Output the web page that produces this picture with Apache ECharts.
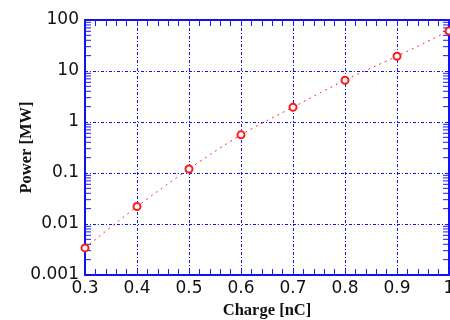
<!DOCTYPE html>
<html>
<head>
<meta charset="utf-8">
<script src="https://cdn.jsdelivr.net/npm/echarts@6/dist/echarts.min.js"></script>
<style>
  html, body { margin: 0; padding: 0; background: #fff; }
  #chart { width: 450px; height: 320px; }
</style>
</head>
<body>
<div id="chart"></div>
<script>
// data
const charge = [0.3, 0.4, 0.5, 0.6, 0.7, 0.8, 0.9, 1.0];
const power = [0.0034, 0.022, 0.12, 0.56, 1.95, 6.6, 19.5, 61];

const yTicks = [0.001, 0.01, 0.1, 1, 10, 100];
// log minor ticks (2..9 per decade), drawn on both y edges
const yMinorTicks = [
  0.002, 0.003, 0.004, 0.005, 0.006, 0.007, 0.008, 0.009,
  0.02, 0.03, 0.04, 0.05, 0.06, 0.07, 0.08, 0.09,
  0.2, 0.3, 0.4, 0.5, 0.6, 0.7, 0.8, 0.9,
  2, 3, 4, 5, 6, 7, 8, 9,
  20, 30, 40, 50, 60, 70, 80, 90
];

const blue = '#1010f0';
const tickColor = '#1a1aff';
const labelFont = { fontFamily: 'DejaVu Sans', fontSize: 17, color: '#111' };
const nameFont = { fontFamily: 'Liberation Serif', fontSize: 16.5, fontWeight: 'bold', color: '#111' };
const gridDash = { color: blue, width: 1, type: [3, 2, 1, 2] };

const chart = echarts.init(document.getElementById('chart'));

const xBase = {
  type: 'value',
  min: 0.3,
  max: 1.0,
  interval: 0.1,
  axisLine: { lineStyle: { color: blue, width: 2 } },
  axisTick: { show: true, inside: true, length: 6, lineStyle: { color: tickColor, width: 1 } },
  minorTick: { show: true, splitNumber: 5, length: 6, lineStyle: { color: tickColor, width: 1 } },
};

const yBase = {
  type: 'log',
  logBase: 10,
  min: 0.001,
  max: 100,
  axisLine: { lineStyle: { color: blue, width: 2 } },
  axisTick: { show: false },
};

chart.setOption({
  animation: false,
  grid: { left: 85, right: 1, top: 20, bottom: 45, outerBoundsMode: 'none' },
  xAxis: [
    Object.assign({}, xBase, {
      position: 'bottom',
      name: 'Charge [nC]',
      nameLocation: 'middle',
      nameGap: 26,
      nameTextStyle: nameFont,
      axisLabel: Object.assign({}, labelFont, {
        margin: 5,
        formatter: v => (Math.abs(v - 1) < 1e-9 ? '1' : v.toFixed(1))
      }),
      splitLine: { show: true, lineStyle: gridDash }
    }),
    Object.assign({}, xBase, {
      position: 'top',
      axisLabel: { show: false },
      splitLine: { show: false }
    })
  ],
  yAxis: [
    Object.assign({}, yBase, {
      position: 'left',
      name: 'Power [MW]',
      nameLocation: 'middle',
      nameGap: 50,
      nameMoveOverlap: false,
      nameTextStyle: nameFont,
      axisLabel: Object.assign({}, labelFont, {
        margin: 6,
        formatter: v => {
          const hit = yTicks.find(t => Math.abs(Math.log10(v) - Math.log10(t)) < 1e-6);
          return hit === undefined ? '' : String(hit);
        }
      }),
      splitLine: { show: true, lineStyle: gridDash }
    }),
    Object.assign({}, yBase, {
      position: 'right',
      axisLabel: { show: false },
      splitLine: { show: false }
    })
  ],
  series: [
    {
      type: 'custom',
      silent: true,
      data: yMinorTicks.map(v => [0.3, v]),
      renderItem: (params, api) => {
        const v = api.value(1);
        const l = api.coord([0.3, v]);
        return { type: 'line', shape: { x1: l[0], y1: l[1], x2: l[0] + 6, y2: l[1] }, style: { stroke: tickColor, lineWidth: 1 } };
      }
    },
    {
      type: 'custom',
      silent: true,
      data: yMinorTicks.map(v => [1.0, v]),
      renderItem: (params, api) => {
        const v = api.value(1);
        const r = api.coord([1.0, v]);
        return { type: 'line', shape: { x1: r[0], y1: r[1], x2: r[0] - 6, y2: r[1] }, style: { stroke: tickColor, lineWidth: 1 } };
      }
    },
    {
      type: 'line',
      data: charge.map((c, i) => [c, power[i]]),
      smooth: 0.3,
      symbol: 'emptyCircle',
      symbolSize: 7,
      itemStyle: { color: '#ff1a1a', borderWidth: 1 },
      lineStyle: { color: '#ff3030', width: 1, type: [2, 4] }
    }
  ]
});
</script>
</body>
</html>
